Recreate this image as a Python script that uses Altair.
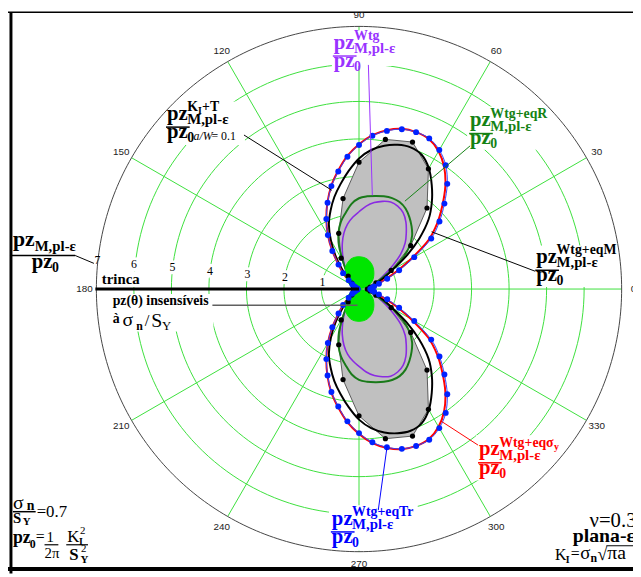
import altair as alt
import numpy as np
import pandas as pd

# ---------------- values ----------------
ang5 = list(range(0, 360, 5))
ang10 = list(range(0, 360, 10))
ang15 = list(range(0, 360, 15))

# pz^{Wtg+eqTr}/pz0 (blue, dots)
r_tr = [0.30, 0.34, 0.41, 0.55, 0.80, 1.18, 1.70, 2.35, 2.80, 3.22, 3.66, 4.03, 4.28, 4.43, 4.45, 4.41, 4.28, 4.10,
        3.84, 3.54, 3.18, 2.84, 2.45, 2.06, 1.66, 1.24, 0.85, 0.60, 0.36, 0.22, 0.14, 0.10, 0.08, 0.06, 0.05, 0.04,
        0.04, 0.04, 0.05, 0.06, 0.08, 0.10, 0.14, 0.22, 0.36, 0.60, 0.85, 1.24, 1.66, 2.06, 2.45, 2.84, 3.18, 3.54,
        3.84, 4.10, 4.28, 4.41, 4.45, 4.43, 4.28, 4.03, 3.66, 3.22, 2.80, 2.35, 1.70, 1.18, 0.80, 0.55, 0.41, 0.34]
# pz^{Wtg+eq sigma_y}/pz0 (red)
r_sy = [0.28, 0.32, 0.38, 0.50, 0.74, 1.10, 1.60, 2.25, 2.72, 3.14, 3.58, 3.96, 4.24, 4.41, 4.45, 4.42, 4.30, 4.12,
        3.86, 3.56, 3.20, 2.85, 2.46, 2.06, 1.66, 1.24, 0.85, 0.60, 0.36, 0.22, 0.14, 0.10, 0.08, 0.06, 0.05, 0.04,
        0.04, 0.04, 0.05, 0.06, 0.08, 0.10, 0.14, 0.22, 0.36, 0.60, 0.85, 1.24, 1.66, 2.06, 2.46, 2.85, 3.20, 3.56,
        3.86, 4.12, 4.30, 4.42, 4.45, 4.41, 4.24, 3.96, 3.58, 3.14, 2.72, 2.25, 1.60, 1.10, 0.74, 0.50, 0.38, 0.32]
# pz^{Wtg+eqM}/pz0 (black thick)
r_eqm = [0.25, 0.28, 0.33, 0.42, 0.56, 0.76, 1.05, 1.55, 2.10, 2.62, 3.02, 3.38, 3.72, 3.95, 4.02, 3.98, 3.88, 3.72,
         3.48, 3.16, 2.84, 2.54, 2.22, 1.90, 1.50, 1.10, 0.72, 0.45, 0.28, 0.18, 0.12, 0.09, 0.07, 0.06, 0.05, 0.05,
         0.05, 0.05, 0.05, 0.06, 0.07, 0.09, 0.12, 0.18, 0.28, 0.45, 0.72, 1.10, 1.50, 1.90, 2.22, 2.54, 2.84, 3.16,
         3.48, 3.72, 3.88, 3.98, 4.02, 3.95, 3.72, 3.38, 3.02, 2.62, 2.10, 1.55, 1.05, 0.76, 0.56, 0.42, 0.33, 0.28]
# pz^{Wtg+eqR}/pz0 (dark green)
r_eqr = [0.20, 0.22, 0.26, 0.33, 0.45, 0.65, 1.00, 1.40, 1.75, 2.00, 2.18, 2.34, 2.48, 2.56, 2.58, 2.56, 2.52, 2.48,
         2.42, 2.28, 2.06, 1.86, 1.60, 1.26, 0.86, 0.60, 0.42, 0.30, 0.22, 0.16, 0.12, 0.09, 0.07, 0.06, 0.05, 0.05,
         0.05, 0.05, 0.05, 0.06, 0.07, 0.09, 0.12, 0.16, 0.22, 0.30, 0.42, 0.60, 0.86, 1.26, 1.60, 1.86, 2.06, 2.28,
         2.42, 2.48, 2.52, 2.56, 2.58, 2.56, 2.48, 2.34, 2.18, 2.00, 1.75, 1.40, 1.00, 0.65, 0.45, 0.33, 0.26, 0.22]
# pz^{Wtg}/pz0 (purple)
r_wtg = [0.20, 0.22, 0.26, 0.33, 0.45, 0.60, 0.80, 1.10, 1.45, 1.74, 1.96, 2.18, 2.35, 2.44, 2.47, 2.42, 2.34, 2.22,
         2.06, 1.92, 1.76, 1.55, 1.30, 1.04, 0.80, 0.60, 0.42, 0.30, 0.22, 0.16, 0.12, 0.09, 0.07, 0.06, 0.05, 0.05,
         0.05, 0.05, 0.05, 0.06, 0.07, 0.09, 0.12, 0.16, 0.22, 0.30, 0.42, 0.60, 0.80, 1.04, 1.30, 1.55, 1.76, 1.92,
         2.06, 2.22, 2.34, 2.42, 2.47, 2.44, 2.35, 2.18, 1.96, 1.74, 1.45, 1.10, 0.80, 0.60, 0.45, 0.33, 0.26, 0.22]
# pz^{KI+T}/pz0, a/W = 0.1 (grey area, black dots)
r_kt = [0.22, 0.30, 0.48, 0.99, 1.80, 2.82, 3.70, 4.17, 4.05, 3.38, 2.45, 1.58, 0.95, 0.45, 0.25, 0.18, 0.14, 0.10,
        0.08, 0.10, 0.14, 0.18, 0.25, 0.45, 0.95, 1.58, 2.45, 3.38, 4.05, 4.17, 3.70, 2.82, 1.80, 0.99, 0.48, 0.30]
# pz(theta) insensitive to sigma_n/S_Y (bright green blob)
r_ins = [0.04, 0.20, 0.40, 0.56, 0.72, 0.83, 0.86, 0.83, 0.70, 0.50, 0.32, 0.16,
         0.04, 0.16, 0.32, 0.50, 0.70, 0.83, 0.86, 0.83, 0.72, 0.56, 0.40, 0.20]

grid_r = [1, 2, 3, 4, 5, 6]
outer_r = 7
spoke_deg = list(range(0, 360, 30))
angle_lbl = [0, 30, 60, 90, 120, 150, 180, 210, 240, 270, 300, 330]
tick_lbl = ["1", "2", "3", "4", "5", "6", "7"]

# ---------------- layout ----------------
CX, CY, PX = 363.5, 289.0, 38.0       # page position of the pole, px per unit
W, H = 633, 569


def ux(px):
    return (np.asarray(px, float) - CX) / PX


def uy(py):
    return (CY - np.asarray(py, float)) / PX


xs = alt.Scale(domain=[float(ux(8)), float(ux(8 + W))], nice=False, zero=False)
ys = alt.Scale(domain=[float(uy(8 + H)), float(uy(8))], nice=False, zero=False)
X = alt.X("x:Q", scale=xs, axis=None)
Y = alt.Y("y:Q", scale=ys, axis=None)


def polar(ang, r, key="c"):
    t = np.deg2rad(np.asarray(ang, float))
    r = np.asarray(r, float)
    return pd.DataFrame({"x": r * np.cos(t), "y": r * np.sin(t), "o": np.arange(len(r)), "k": key})


def curve(df, **mk):
    return alt.Chart(df).mark_line(**mk).encode(x=X, y=Y, order="o:Q")


layers = []

# green grid circles
circ = pd.concat([polar(np.arange(0, 361, 2), [g] * len(np.arange(0, 361, 2)), str(g)) for g in grid_r])
layers.append(alt.Chart(circ).mark_line(color="#3ce03c", strokeWidth=1).encode(x=X, y=Y, detail="k:N", order="o:Q"))

# spokes
t = np.deg2rad(np.asarray(spoke_deg, float))
spokes = pd.DataFrame({"x": 0.0, "y": 0.0, "x2": outer_r * np.cos(t), "y2": outer_r * np.sin(t)})
layers.append(alt.Chart(spokes).mark_rule(color="#3ce03c", strokeWidth=1).encode(x=X, y=Y, x2="x2:Q", y2="y2:Q"))

# white boxes behind labels (page px: x1, x2, y1, y2)
boxes = [(336, 403, 27, 63), (166, 248, 99, 143), (473, 556, 104, 148), (540, 628, 245, 287),
         (482, 570, 437, 483), (333, 423, 508, 554), (101, 143, 271, 287), (112, 216, 294, 332)]
tick_pos = [(326.5, 282), (288.5, 277), (250.5, 274), (212.5, 270.5), (174.5, 267), (135.5, 264), (98.5, 259.5)]
for (tx_, ty_) in tick_pos[:-1]:
    boxes.append((tx_ - 5, tx_ + 5, ty_ - 7, ty_ + 7))
bdf = pd.DataFrame(boxes, columns=["a", "b", "c", "d"])
bdf = pd.DataFrame({"x": ux(bdf.a), "x2": ux(bdf.b), "y": uy(bdf.c), "y2": uy(bdf.d)})
layers.append(alt.Chart(bdf).mark_rect(color="white").encode(x=X, x2="x2:Q", y=Y, y2="y2:Q"))

# outer circle
layers.append(curve(polar(np.arange(0, 361, 1), [outer_r] * 361), color="#444444", strokeWidth=1))

# curves
layers.append(curve(polar(ang10, r_kt), interpolate="linear-closed", fill="#c0c0c0", stroke="#5a5a5a",
                    strokeWidth=1))
layers.append(curve(polar(ang5, r_wtg), interpolate="cardinal-closed", color="#8a2be2", strokeWidth=1.6))
layers.append(curve(polar(ang5, r_eqr), interpolate="cardinal-closed", color="#1a7a1a", strokeWidth=2))
layers.append(curve(polar(ang5, r_eqm), interpolate="cardinal-closed", color="#000000", strokeWidth=2))
layers.append(curve(polar(ang5, r_sy), interpolate="cardinal-closed", color="#ff0000", strokeWidth=2))
layers.append(curve(polar(ang5, r_tr), interpolate="cardinal-closed", color="#3344ff", strokeWidth=1))
layers.append(curve(polar(ang15, r_ins), interpolate="cardinal-closed", fill="#00e600", stroke="#00e600",
                    strokeWidth=1))
layers.append(alt.Chart(polar(ang10, r_kt)).mark_circle(size=28, color="black", opacity=1).encode(x=X, y=Y))
layers.append(alt.Chart(polar(ang5, r_tr)).mark_circle(size=36, color="#0022ff", opacity=1).encode(x=X, y=Y))

# ---------------- texts and rules ----------------
SERIF, SANS = "Liberation Serif", "Liberation Sans"
P, G, R, B, K = "#9933ff", "#148214", "#ff0000", "#0000ff", "#000000"
texts = []   # text, px, py, size, color, font, weight, style, align, baseline
rules = [(96.5, 289, 363.5, 289, K, 3)]   # crack line  (x1, y1, x2, y2, color, width)


def tx(t, x, y, s, c=K, f=SERIF, w="bold", st="normal", al="left", bl="alphabetic"):
    texts.append((t, x, y, s, c, f, w, st, al, bl))


def frac(x0, b, col, sub=True):
    tx("pz", x0, b, 21, col)
    if sub:
        tx("M,pl-ε", x0 + 20.5, b + 4.5, 15, col)
    tx("pz", x0, b + 18.5, 21, col)
    tx("0", x0 + 20.5, b + 22.5, 14, col)
    rules.append((x0 - 1, b + 7.5, x0 + 23, b + 7.5, col, 1.5))


frac(338, 45.5, P)
tx("Wtg", 358.5, 37, 14, P)
rules.append((373, 62, 377, 194, P, 1))

frac(169, 117.5, K)
tx("K", 189.5, 109, 14)
tx("I", 200.5, 112, 10)
tx("+T", 204.5, 109, 14)
tx("a/W", 196, 138, 12, w="normal", st="italic")
tx(" = 0.1", 214, 138, 12, w="normal")
rules.append((247, 133, 336, 189, K, 1))

frac(476, 124, G)
tx("Wtg+eqR", 496.5, 115.5, 14, G)
rules.append((476, 144, 410, 200, G, 1))

frac(543, 262.5, K)
tx("Wtg+eqM", 563.5, 254, 14)
rules.append((542, 271, 437, 231, K, 1))

frac(485, 457.5, R)
tx("Wtg+eq", 505.5, 449, 14, R)
tx("σ", 553, 449, 14, R)
tx("y", 561, 452, 10, R)
rules.append((447, 423, 484, 447, R, 1))

frac(336, 527.5, B)
tx("Wtg+eqTr", 356.5, 519, 14, B)
rules.append((392, 448, 383, 513, B, 1))

# left label
tx("pz", 13, 245.5, 22)
tx("M,pl-ε", 35, 250, 15)
tx("pz", 32, 268, 21)
tx("0", 52.5, 272, 14)
rules.append((10, 255, 76, 255, K, 1.5))
rules.append((76, 255, 95, 263, K, 1))

tx("trinca", 103, 284, 15)
tx("pz(θ) insensíveis", 114, 305, 14)
tx("à", 114, 323, 14)
tx("σ", 124, 326, 20, w="normal")
tx("n", 138, 330, 12)
tx("/", 146.5, 326, 17, w="normal")
tx("S", 153, 327, 20, w="normal")
tx("Y", 164, 330.5, 13, w="normal")
rules.append((215, 305.5, 362, 305.5, "#606060", 1.5))

# bottom left
tx("σ", 13, 511.5, 20, w="normal")
tx("n", 27, 513, 14)
rules.append((13, 514.5, 36, 514.5, K, 1.5))
tx("S", 13, 525.5, 15)
tx("Y", 23, 528, 11)
tx("=0.7", 37, 519.5, 17, w="normal")
tx("pz", 13, 546.5, 18)
tx("0", 30, 551, 12)
tx("=", 36, 545, 16, w="normal")
tx("1", 47, 545, 15, w="normal")
rules.append((45, 548, 59, 548, K, 1.2))
tx("2π", 45, 561, 15, w="normal")
tx("K", 68, 545, 17, w="normal")
tx("I", 80, 548.5, 10)
tx("2", 81, 537, 11, w="normal")
rules.append((67, 548, 89, 548, K, 1.2))
tx("S", 70, 563, 17)
tx("Y", 81.5, 566.5, 11)
tx("2", 82, 555, 11, w="normal")

# bottom right (cut by the right edge, as in the original)
tx("ν=0.3", 597, 530, 21, w="normal")
tx("plana-ε", 580, 545, 20)
tx("K", 562, 563, 16, w="normal")
tx("I", 573, 566, 10)
tx("=", 578, 562, 16, w="normal")
tx("σ", 587.5, 562, 19, w="normal")
tx("n", 598, 565, 12)
tx("√", 605, 563, 18, w="normal")
tx("πa", 615, 562, 20, w="normal")
rules.append((614, 549, 641, 549, K, 1))

# angle labels
for a in angle_lbl:
    rr = 278.0
    tx(str(a), CX + rr * np.cos(np.deg2rad(a)), CY - rr * np.sin(np.deg2rad(a)) + (1 if a == 270 else 0), 10,
       "#222222", SANS, "normal", "normal", "center", "middle")
for lab, (px_, py_) in zip(tick_lbl, tick_pos):
    tx(lab, px_, py_, 12, K, SERIF, "normal", "normal", "center", "middle")

# frame
rules += [(11, 8.5, 11, 577, K, 3), (8, 8.7, 641, 8.7, K, 1.5), (8, 572.5, 641, 572.5, K, 4)]

rdf = pd.DataFrame(rules, columns=["a", "b", "c", "d", "col", "w"])
rdf = pd.DataFrame({"x": ux(rdf.a), "y": uy(rdf.b), "x2": ux(rdf.c), "y2": uy(rdf.d), "col": rdf.col, "w": rdf.w})
layers.append(alt.Chart(rdf).mark_rule(strokeCap="butt").encode(
    x=X, y=Y, x2="x2:Q", y2="y2:Q",
    color=alt.Color("col:N", scale=None), strokeWidth=alt.StrokeWidth("w:Q", scale=None)))

T = pd.DataFrame(texts, columns=["t", "px", "py", "s", "c", "f", "w", "st", "al", "bl"])
T["x"] = ux(T.px)
T["y"] = uy(T.py)
for (f, w, st, al, bl), g in T.groupby(["f", "w", "st", "al", "bl"]):
    layers.append(alt.Chart(g[["t", "x", "y", "s", "c"]].reset_index(drop=True)).mark_text(
        font=f, fontWeight=w, fontStyle=st, align=al, baseline=bl).encode(
        x=X, y=Y, text="t:N", size=alt.Size("s:Q", scale=None), color=alt.Color("c:N", scale=None)))

chart = alt.layer(*layers).properties(
    width=W, height=H, padding=0, background="white",
    autosize=alt.AutoSizeParams(type="none"),
).configure_view(stroke=None)

chart.save("out.html", embed_options={"renderer": "svg", "actions": False})
